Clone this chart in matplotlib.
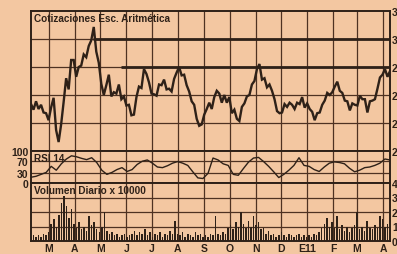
import numpy as np
import pandas as pd
import matplotlib
matplotlib.use("Agg")
import matplotlib.pyplot as plt

# ---------------- data ----------------
start = pd.Timestamp("2010-02-08")
end_days = 425

month_labels = ["M", "A", "M", "J", "J", "A", "S", "O", "N", "D", "E11", "F", "M", "A"]
month_dates = pd.date_range("2010-03-01", "2011-04-01", freq="MS")

price = [25.36, 24.95, 25.55, 25.0, 25.3, 24.75, 24.7, 24.2, 25.1, 25.8,
         23.5, 22.64, 23.9, 25.5, 27.2, 26.4, 28.5, 28.5, 27.3, 28.0,
         28.1, 28.9, 28.7, 29.5, 29.9, 30.86, 29.1, 28.3, 26.8, 26.0,
         26.7, 27.45, 25.9, 26.2, 26.1, 26.75, 25.7, 25.9, 25.25, 25.3,
         24.55, 24.6, 25.85, 26.6, 26.5, 27.85, 27.5, 26.9, 26.1, 26.05,
         25.95, 26.75, 26.7, 27.1, 26.4, 26.45, 26.25, 27.15, 27.6, 28.0,
         27.4, 27.45, 26.7, 26.25, 25.55, 25.3, 24.3, 23.8, 23.9, 24.6,
         25.0, 25.45, 25.0, 25.85, 26.3, 26.1, 25.45, 26.0, 25.45, 25.85,
         24.7, 24.95, 24.3, 24.14, 25.15, 25.4, 25.9, 26.0, 26.75, 27.0,
         27.85, 28.21, 27.1, 27.2, 26.55, 26.75, 26.3, 25.7, 24.85, 24.7,
         24.75, 25.35, 25.15, 25.45, 25.3, 25.0, 25.45, 25.35, 25.85, 25.1,
         25.4, 25.0, 24.8, 24.2, 24.7, 24.75, 25.3, 25.6, 26.15, 26.0,
         26.2, 26.6, 26.95, 26.3, 26.15, 25.6, 25.55, 24.9, 25.4, 25.3,
         25.25, 25.95, 25.7, 25.7, 24.75, 25.55, 25.6, 25.7, 26.45, 27.25,
         27.45, 27.85, 27.3, 27.71]

rsi = [18, 21, 27, 33, 52, 40, 60, 75, 85, 82, 77, 73, 79, 64, 40, 27, 33, 42,
       48, 36, 42, 58, 68, 72, 62, 50, 48, 54, 62, 67, 62, 55, 35, 16, 14, 30,
       78, 72, 60, 55, 27, 24, 45, 65, 78, 80, 67, 52, 35, 17, 27, 40, 55, 79,
       55, 52, 42, 36, 50, 62, 66, 64, 60, 46, 35, 40, 48, 50, 55, 62, 75, 72]

volume = [0.3, 0.4, 0.3, 0.4, 0.3, 0.5, 0.4, 0.6, 1.2, 1.5, 1.0, 1.8, 2.6, 3.1,
          2.4, 1.6, 2.2, 1.2, 0.9, 1.3, 0.8, 1.0, 0.7, 1.7, 1.1, 1.3, 0.8, 0.6,
          1.0, 2.0, 0.7, 0.5, 0.6, 0.4, 0.5, 0.3, 0.4, 0.5, 0.3, 0.4, 0.5, 0.7,
          0.4, 0.6, 0.5, 0.8, 0.4, 0.6, 0.3, 0.5, 0.4, 0.6, 0.3, 0.5, 0.4, 0.7,
          0.5, 1.4, 0.5, 0.4, 0.6, 0.3, 0.5, 0.4, 0.3, 0.6, 0.4, 0.5, 0.3, 0.4,
          0.3, 0.5, 0.4, 1.7, 0.5, 0.4, 0.6, 0.5, 0.9, 1.1, 0.8, 1.3, 1.0, 2.0,
          1.2, 0.9, 1.4, 1.0, 1.7, 1.1, 1.3, 0.8, 0.9, 0.5, 0.7, 0.4, 0.5, 0.3,
          0.4, 0.6, 0.4, 0.3, 0.5, 0.4, 0.3, 0.4, 0.5, 0.3, 0.4, 0.3, 0.4, 0.3,
          0.5, 0.4, 0.6, 0.9, 1.2, 1.6, 1.0, 1.3, 0.9, 1.7, 0.8, 1.1, 0.7, 1.0,
          0.6, 0.9, 1.1, 2.0, 0.8, 1.0, 0.7, 1.4, 0.9, 0.8, 1.1, 0.9, 1.7, 1.5,
          1.0, 1.2, 0.9]

price_ticks = [32, 30, 28, 26, 24, 22]
rsi_ticks = [100, 70, 30, 0]
vol_ticks = [4, 3, 2, 1, 0]
resist_levels = [30, 28]
resist_start = [pd.Timestamp("2010-04-22"), pd.Timestamp("2010-05-26")]

# ---------------- style ----------------
BG = "#f3c7a1"
INK = "#2e2118"
GRID = "#4e3222"
FONT = "Liberation Sans"
plt.rcParams["font.family"] = [FONT, "DejaVu Sans"]

W, H = 397, 255
fig = plt.figure(figsize=(W / 100, H / 100), dpi=100, facecolor=BG)

def ax_rect(x0, y0, x1, y1):
    return [x0 / W, (H - y1) / H, (x1 - x0) / W, (y1 - y0) / H]

ax_p = fig.add_axes(ax_rect(31, 12, 390, 152))
ax_r = fig.add_axes(ax_rect(31, 152, 390, 184))
ax_v = fig.add_axes(ax_rect(31, 184, 390, 242))

xp = np.linspace(0, end_days, len(price))
xr = np.linspace(0, end_days, len(rsi))
xv = np.linspace(0, end_days, len(volume))
mpos = [(d - start).days for d in month_dates]

for ax in (ax_p, ax_r, ax_v):
    ax.set_facecolor(BG)
    ax.set_xlim(0, end_days)
    for s in ax.spines.values():
        s.set_color(INK)
        s.set_linewidth(1.4)
    for m in mpos:
        ax.axvline(m, color=GRID, lw=0.9, zorder=1)
    ax.set_xticks([])
    ax.tick_params(length=0)

# price panel
ax_p.set_ylim(22, 32)
for t in price_ticks[1:-1]:
    ax_p.axhline(t, color=GRID, lw=0.9, zorder=1)
for lvl, sd in zip(resist_levels, resist_start):
    ax_p.hlines(lvl, (sd - start).days, end_days, color=INK, lw=2.0, zorder=2)
ax_p.plot(xp, price, color=INK, lw=1.7, zorder=3, solid_joinstyle="miter")
ax_p.yaxis.tick_right()
ax_p.set_yticks(price_ticks)
ax_p.set_yticklabels([str(t) for t in price_ticks], fontsize=7.5,
                     color=INK, fontweight="bold")
ax_p.tick_params(axis="y", pad=1.5)
ax_p.text(0.008, 0.985, "Cotizaciones Esc. Aritmética", transform=ax_p.transAxes,
          ha="left", va="top", fontsize=7.2, color=INK, fontweight="bold")

# RSI panel
ax_r.set_ylim(0, 100)
for t in (70, 30):
    ax_r.axhline(t, color=GRID, lw=0.9, zorder=1)
ax_r.plot(xr, rsi, color=INK, lw=1.0, zorder=3)
ax_r.set_yticks(rsi_ticks)
ax_r.set_yticklabels([str(t) for t in rsi_ticks], fontsize=7.5, color=INK,
                     fontweight="bold")
ax_r.tick_params(axis="y", pad=2)
ax_r.text(0.008, 0.95, "RSI 14", transform=ax_r.transAxes,
          ha="left", va="top", fontsize=7.2, color=INK, fontweight="bold")

# volume panel
ax_v.set_ylim(0, 4)
for t in (1, 2, 3):
    ax_v.axhline(t, color=GRID, lw=0.9, zorder=1)
ax_v.bar(xv, volume, width=1.8, color=INK, zorder=3)
ax_v.yaxis.tick_right()
ax_v.set_yticks(vol_ticks)
ax_v.set_yticklabels([str(t) for t in vol_ticks], fontsize=7.5, color=INK,
                     fontweight="bold")
ax_v.tick_params(axis="y", pad=1.5)
ax_v.set_xticks(mpos)
ax_v.set_xticklabels(month_labels, fontsize=7.5, color=INK, fontweight="bold")
ax_v.tick_params(axis="x", pad=1.5)
ax_v.text(0.008, 0.96, "Volumen Diario x 10000", transform=ax_v.transAxes,
          ha="left", va="top", fontsize=7.2, color=INK, fontweight="bold")

fig.savefig("out.png", dpi=100, facecolor=BG)
